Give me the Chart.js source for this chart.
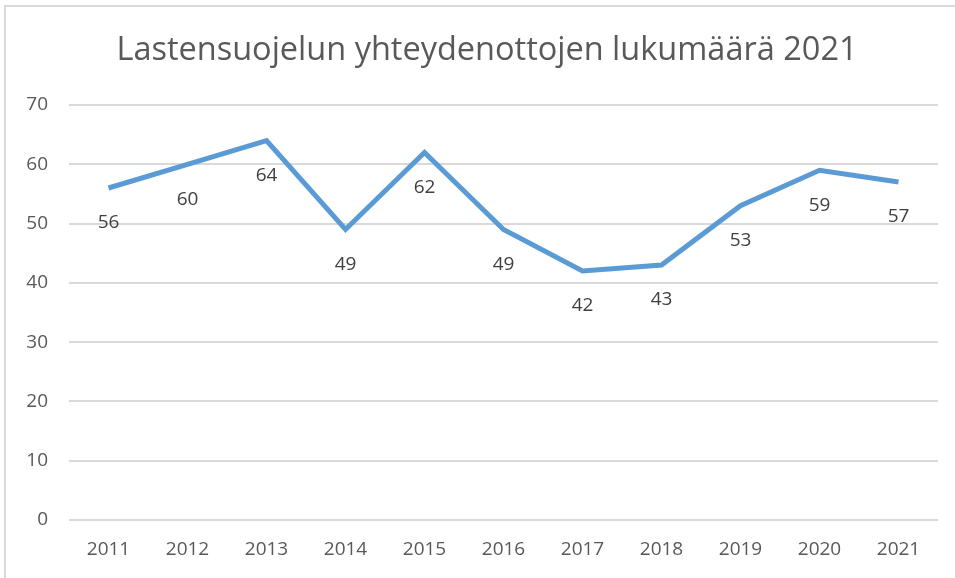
<!DOCTYPE html>
<html>
<head>
<meta charset="utf-8">
<script src="https://cdn.jsdelivr.net/npm/chart.js@4"></script>
<style>
  html, body { margin: 0; padding: 0; background: #fff; overflow: hidden; }
  #wrap { position: relative; width: 955px; height: 578px; }
  #frame { position: absolute; left: 4px; top: 5px; width: 980px; height: 600px;
           border: 2px solid #d9d9d9; box-sizing: border-box; pointer-events: none; }
  canvas { position: absolute; left: 0; top: 0; }
</style>
</head>
<body>
<div id="wrap">
  <canvas id="chart" width="955" height="578"></canvas>
  <div id="frame"></div>
</div>
<script>
// --- Data ---
const years = ['2011', '2012', '2013', '2014', '2015', '2016', '2017', '2018', '2019', '2020', '2021'];
const contacts = [56, 60, 64, 49, 62, 49, 42, 43, 53, 59, 57];
const titleText = 'Lastensuojelun yhteydenottojen lukumäärä 2021';

const FONT = "'Open Sans', 'Noto Sans', sans-serif";
const TEXT_COLOR = '#595959';

// Title drawn a bit left of the plot centre, like the original
const chartTitle = {
    id: 'chartTitle',
    afterDraw(chart) {
        const ctx = chart.ctx;
        ctx.save();
        ctx.font = '32.5px ' + FONT;
        ctx.fillStyle = TEXT_COLOR;
        ctx.textAlign = 'center';
        ctx.textBaseline = 'middle';
        ctx.fillText(titleText, 487, 51);
        ctx.restore();
    }
};

// Value labels drawn under each point
const valueLabels = {
    id: 'valueLabels',
    afterDatasetsDraw(chart) {
        const ctx = chart.ctx;
        const meta = chart.getDatasetMeta(0);
        ctx.save();
        ctx.font = '19px ' + FONT;
        ctx.fillStyle = '#404040';
        ctx.textAlign = 'center';
        ctx.textBaseline = 'middle';
        meta.data.forEach((pt, i) => {
            ctx.fillText(String(contacts[i]), pt.x, pt.y + 35);
        });
        ctx.restore();
    }
};

const ctx = document.getElementById('chart').getContext('2d');
new Chart(ctx, {
    type: 'line',
    data: {
        labels: years,
        datasets: [{
            data: contacts,
            borderColor: '#5B9BD5',
            borderWidth: 5,
            pointRadius: 0,
            tension: 0,
            fill: false
        }]
    },
    options: {
        responsive: false,
        animation: false,
        layout: { padding: { left: 0, right: 17, top: 105, bottom: 0 } },
        plugins: {
            legend: { display: false },
            tooltip: { enabled: false },
            title: { display: false }
        },
        scales: {
            x: {
                offset: true,
                grid: { display: false, drawTicks: false },
                border: { display: false },
                ticks: { color: TEXT_COLOR, font: { family: FONT, size: 19 }, padding: 18, maxRotation: 0 },
                afterFit(scale) { scale.height = 58; }
            },
            y: {
                min: 0,
                max: 70,
                ticks: { stepSize: 10, color: TEXT_COLOR, font: { family: FONT, size: 19 }, padding: 21 },
                grid: { color: '#d9d9d9', lineWidth: 2, drawTicks: false },
                border: { display: false },
                afterFit(scale) { scale.width = 69; }
            }
        }
    },
    plugins: [valueLabels, chartTitle]
});
</script>
</body>
</html>
